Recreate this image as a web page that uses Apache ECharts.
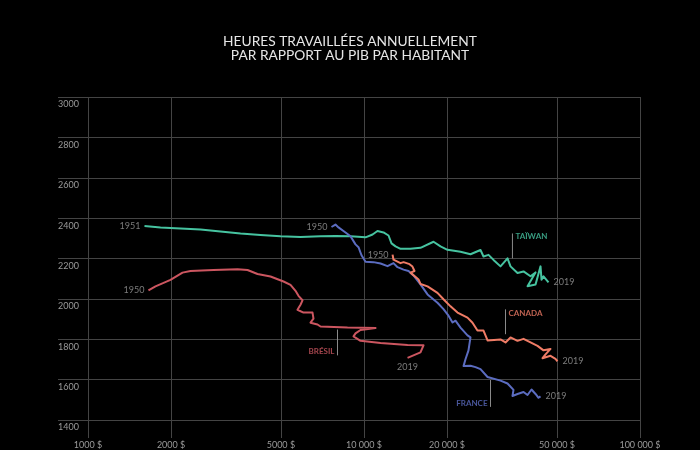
<!DOCTYPE html>
<html><head><meta charset="utf-8">
<script src="https://cdn.jsdelivr.net/npm/echarts@6/dist/echarts.min.js"></script>
<style>html,body{margin:0;padding:0;background:#000}#c{width:700px;height:450px}</style>
</head><body><div id="c"></div>
<script>
// ---- axis ticks ----
const xTickValues = [1000, 2000, 5000, 10000, 20000, 50000, 100000];
const xTickLabels = ['1000 $', '2000 $', '5000 $', '10 000 $', '20 000 $', '50 000 $', '100 000 $'];
const yMin = 1400, yMax = 3000, yStep = 200;

// ---- series (PIB par habitant $, heures annuelles) ----
const taiwanGdp = [1602,1831,2164,2557,3020,3569,4217,4983,5888,6958,7882,8935,10130,10740,11190,11770,12270,12580,13010,13560,14740,16020,17860,18930,20070,22370,24310,26430,27100,28260,29460,31230,33110,33950,35990,37840,40120,41830,39130,41830,43610,43970,44710,46620];
const taiwanHours = [2361,2354,2349,2344,2334,2324,2317,2310,2307,2310,2312,2310,2305,2319,2336,2329,2314,2275,2260,2248,2248,2253,2283,2260,2243,2233,2221,2242,2210,2218,2193,2161,2201,2161,2128,2136,2112,2131,2063,2071,2161,2095,2112,2082];

const bresilGdp = [1656,1756,1990,2200,2351,2850,3481,3784,4113,4584,5110,5417,5647,5790,5987,5888,5741,6037,6508,6561,6400,6784,6958,8714,11010,9712,9316,9162,9712,11480,14380,16430,16020,14380];
const bresilHours = [2042,2062,2094,2130,2138,2143,2147,2143,2123,2111,2086,2069,2040,2015,1993,1971,1946,1932,1932,1902,1882,1873,1863,1858,1856,1846,1829,1814,1792,1782,1772,1770,1735,1708];

const franceGdp = [7624,7882,8083,8570,8935,9316,9552,9793,10130,10820,11480,12170,12790,13230,13910,14500,15110,16020,16990,18460,19410,20240,20930,21450,22370,23710,24310,23910,23320,22940,24310,25350,26430,28030,31230,33110,34810,34510,35990,37840,39130,40450,41830,42890,43610];
const franceHours = [2356,2368,2354,2329,2310,2270,2256,2216,2184,2182,2175,2162,2177,2157,2145,2138,2116,2072,2022,1981,1949,1917,1883,1892,1858,1819,1809,1745,1701,1667,1669,1662,1652,1613,1595,1581,1549,1519,1529,1539,1524,1551,1529,1510,1517];

const canadaGdp = [12690,12790,13560,13910,14620,14980,15240,14740,15760,16020,16990,18460,19410,20580,21820,23710,24720,25770,27100,28030,31230,32560,33950,35990,37840,40120,42530,44710,47400,45470,44340,47400,49410,50240];
const canadaHours = [2219,2194,2177,2182,2172,2160,2138,2130,2096,2074,2062,2030,1998,1963,1932,1907,1882,1843,1843,1794,1799,1784,1809,1792,1802,1784,1767,1745,1752,1725,1706,1718,1703,1691];

const startYears = ['1951', '1950', '1950', '1950'];
const endYears = ['2019', '2019', '2019', '2019'];

// ---- annotations (data space) ----
const countryNames = ['TAÏWAN', 'BRÉSIL', 'FRANCE', 'CANADA'];
const leaderGdp = [34500, 8017, 28730, 32560];
const leaderTop = [2324, 1848, 1598, 1948];
const leaderBottom = [2201, 1720, 1465, 1825];
const nameHours = [2307, 1740, 1480, 1927];

const countries = [
  {gdp: taiwanGdp, hours: taiwanHours, color: '#46c3a0', endPos: 'right', namePos: 'right'},
  {gdp: bresilGdp, hours: bresilHours, color: '#cc5660', endPos: 'bottom', namePos: 'left'},
  {gdp: franceGdp, hours: franceHours, color: '#5b6cc0', endPos: 'right', namePos: 'left'},
  {gdp: canadaGdp, hours: canadaHours, color: '#f07c66', endPos: 'right', namePos: 'right'}
];

const FONT = 'Lato, "Open Sans", sans-serif';
const series = [];
countries.forEach((c, i) => {
  const pts = c.gdp.map((g, k) => [g, c.hours[k]]);
  series.push({
    type: 'line', data: pts, showSymbol: false, z: 3,
    lineStyle: {color: c.color, width: 2, join: 'round'},
    itemStyle: {color: c.color}, silent: true
  });
  const n = pts.length - 1;
  series.push({
    type: 'scatter', symbolSize: 0, z: 4, silent: true,
    data: [
      {value: pts[0], label: {formatter: startYears[i], position: 'left', distance: 4}},
      {value: pts[n], label: {formatter: endYears[i], position: c.endPos, distance: 5}}
    ],
    label: {show: true, color: '#9a9a9a', fontSize: 9, fontFamily: FONT}
  });
  series.push({
    type: 'line', showSymbol: false, silent: true, z: 2,
    data: [[leaderGdp[i], leaderTop[i]], [leaderGdp[i], leaderBottom[i]]],
    lineStyle: {color: '#8a8a8a', width: 1}
  });
  series.push({
    type: 'scatter', symbolSize: 0, silent: true, z: 4,
    data: [[leaderGdp[i], nameHours[i]]],
    label: {show: true, formatter: countryNames[i], position: c.namePos, distance: 3,
      color: c.color, fontSize: 8, fontWeight: 'bold', fontFamily: FONT}
  });
});

const chart = echarts.init(document.getElementById('c'), null, {renderer: 'canvas'});
chart.setOption({
  backgroundColor: '#000',
  animation: false,
  title: {
    text: 'HEURES TRAVAILLÉES ANNUELLEMENT\nPAR RAPPORT AU PIB PAR HABITANT',
    left: 'center', top: 29,
    textStyle: {color: '#e6e6e6', fontSize: 13.75, fontWeight: 'normal', lineHeight: 14.5, fontFamily: FONT, align: 'center'}
  },
  grid: {left: 88, right: 60, top: 97, bottom: 27, containLabel: false},
  xAxis: {
    type: 'log', logBase: 10, min: 1000, max: 100000,
    axisLine: {show: false},
    axisTick: {show: true, customValues: xTickValues, length: 18, lineStyle: {color: '#444'}},
    splitLine: {show: true, lineStyle: {color: '#444', width: 1}},
    minorSplitLine: {show: false},
    axisLabel: {
      customValues: xTickValues, margin: 21, color: '#9a9a9a', fontSize: 9, fontFamily: FONT,
      formatter: v => {
        let best = 0;
        xTickValues.forEach((t, k) => { if (Math.abs(Math.log(t) - Math.log(v)) < Math.abs(Math.log(xTickValues[best]) - Math.log(v))) best = k; });
        return xTickLabels[best];
      }
    }
  },
  yAxis: {
    type: 'value', min: yMin, max: yMax, interval: yStep,
    axisLine: {show: false},
    axisTick: {show: true, length: 30, lineStyle: {color: '#444'}},
    splitLine: {show: true, lineStyle: {color: '#444', width: 1}},
    axisLabel: {
      align: 'left', verticalAlign: 'top', margin: 30, padding: [3, 0, 0, 0],
      color: '#9a9a9a', fontSize: 9, fontFamily: FONT, showMinLabel: true, showMaxLabel: true,
      formatter: v => String(v)
    }
  },
  series: series
});
</script>
</body></html>
